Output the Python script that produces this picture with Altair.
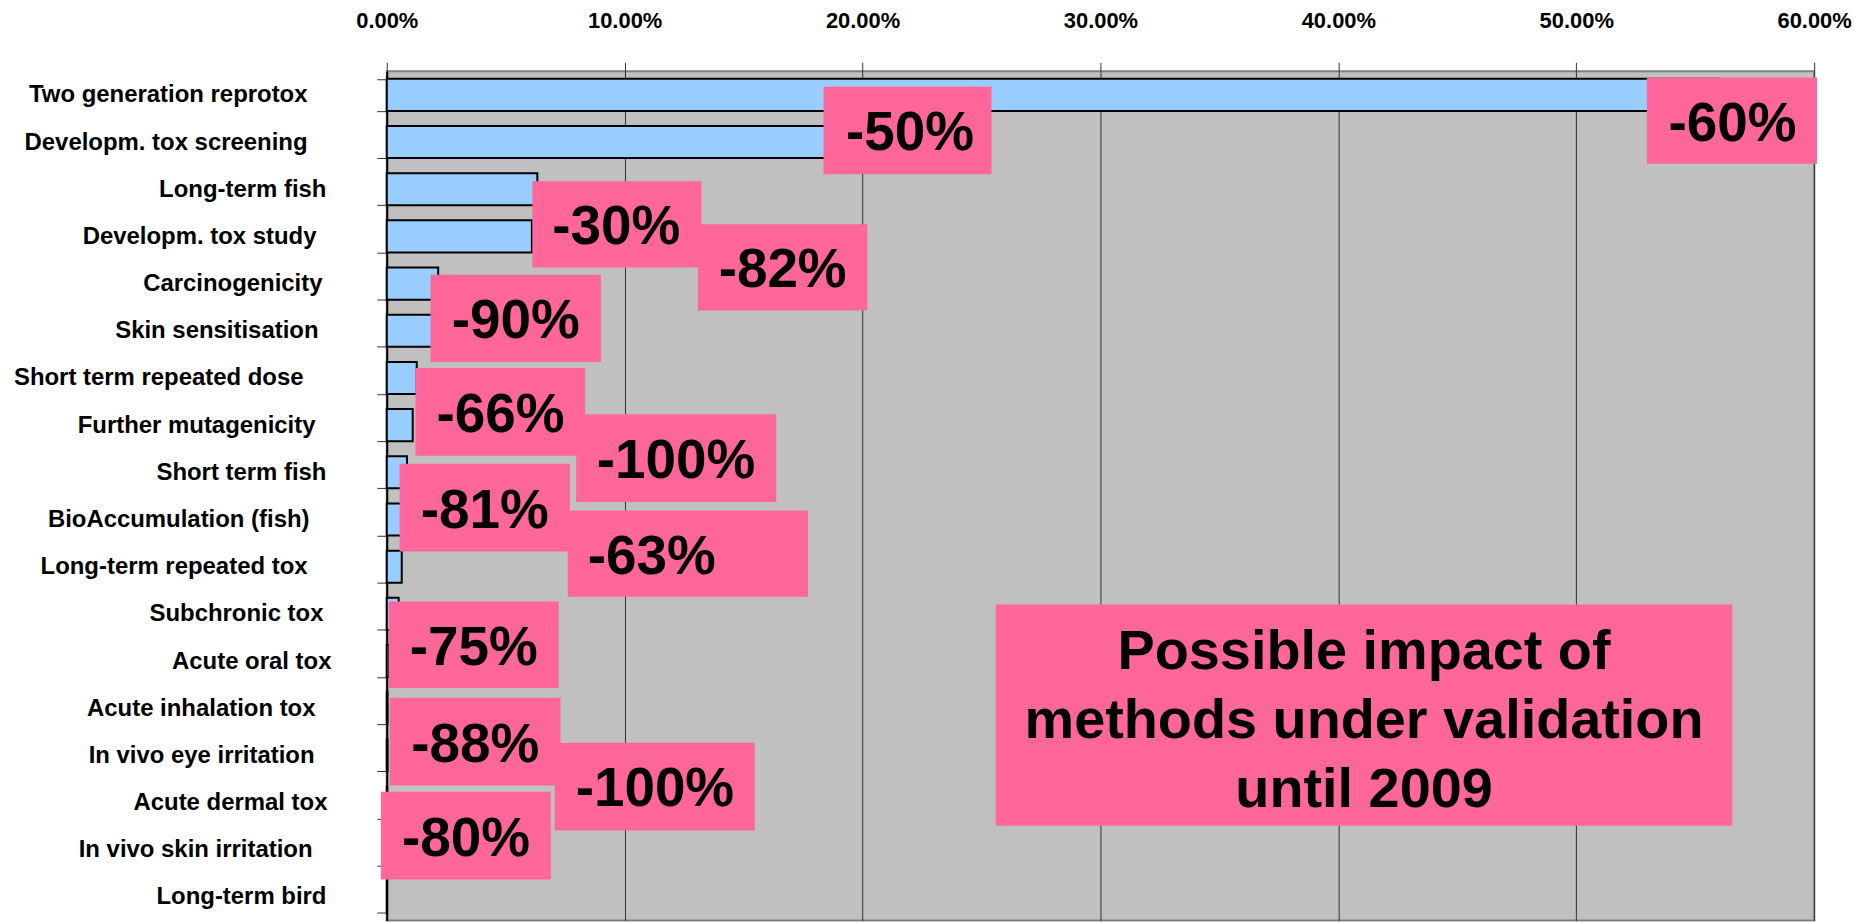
import altair as alt
import pandas as pd

# ---- data ----
categories = [
    "Two generation reprotox", "Developm. tox screening", "Long-term fish",
    "Developm. tox study", "Carcinogenicity", "Skin sensitisation",
    "Short term repeated dose", "Further mutagenicity", "Short term fish",
    "BioAccumulation (fish)", "Long-term repeated tox", "Subchronic tox",
    "Acute oral tox", "Acute inhalation tox", "In vivo eye irritation",
    "Acute dermal tox", "In vivo skin irritation", "Long-term bird",
]
shares = [
    0.560, 0.200, 0.0633, 0.0610, 0.0216, 0.0200,
    0.0126, 0.0109, 0.0085, 0.0060, 0.0063, 0.0050,
    0.0010, 0.0003, 0.0003, 0.0002, 0.0002, 0.0001,
]

tick_values = [0.0, 0.1, 0.2, 0.3, 0.4, 0.5, 0.6]

# reduction callouts (box extents in axis units: share fraction / row index)
ann_labels = ["-60%", "-50%", "-30%", "-82%", "-90%", "-66%", "-100%",
              "-81%", "-63%", "-75%", "-88%", "-100%", "-80%"]
ann_x0 = [0.5297, 0.1836, 0.0612, 0.1308, 0.0184, 0.0121, 0.0796,
          0.0054, 0.0761, 0.0008, 0.0013, 0.0706, -0.0025]
ann_x1 = [0.6012, 0.2542, 0.1323, 0.2020, 0.0900, 0.0834, 0.1637,
          0.0770, 0.1771, 0.0723, 0.0730, 0.1547, 0.0690]
ann_y0 = [0.13, 0.33, 2.33, 3.24, 4.31, 6.29, 7.27,
          8.32, 9.31, 11.24, 13.28, 14.23, 15.27]
ann_y1 = [1.96, 2.18, 4.16, 5.07, 6.16, 8.15, 9.13,
          10.18, 11.14, 13.07, 15.14, 16.09, 17.13]
ann_text_x = [0.5657, 0.2199, 0.0965, 0.1664, 0.0542, 0.0478, 0.1216,
              0.0412, 0.1114, 0.0366, 0.0372, 0.1127, 0.0333]

note_text = ["Possible impact of", "methods under validation", "until 2009"]
note_x0, note_x1 = [0.256], [0.5656]
note_y0, note_y1 = [11.3], [15.99]

# ---- styling: gap between each category label and its tick (px) ----
label_pad = {
    "Two generation reprotox": 70, "Developm. tox screening": 70,
    "Long-term fish": 51, "Developm. tox study": 61, "Carcinogenicity": 55,
    "Skin sensitisation": 59, "Short term repeated dose": 74,
    "Further mutagenicity": 62, "Short term fish": 51,
    "BioAccumulation (fish)": 68, "Long-term repeated tox": 70,
    "Subchronic tox": 54, "Acute oral tox": 46, "Acute inhalation tox": 62,
    "In vivo eye irritation": 63, "Acute dermal tox": 50,
    "In vivo skin irritation": 65, "Long-term bird": 51,
}

# ---- tables ----
bars_df = pd.DataFrame({"category": categories, "share": shares})
ann_df = pd.DataFrame({
    "label": ann_labels, "x0": ann_x0, "x1": ann_x1,
    "y0": ann_y0, "y1": ann_y1, "tx": ann_text_x,
})
ann_df["ty"] = (ann_df["y0"] + ann_df["y1"]) / 2
note_df = pd.DataFrame({
    "text": ["\n".join(note_text)], "x0": note_x0, "x1": note_x1,
    "y0": note_y0, "y1": note_y1,
})
note_df["tx"] = (note_df["x0"] + note_df["x1"]) / 2
note_df["ty"] = (note_df["y0"] + note_df["y1"]) / 2

FONT = "Liberation Sans"
PINK = "#FF6699"
N = len(categories)

xscale = alt.Scale(domain=[0, 0.6], nice=False, zero=True)
rowscale = alt.Scale(domain=[0, N], reverse=True, nice=False, zero=False)

pad_condition = {
    "condition": [{"test": f"datum.value === '{c}'", "value": p}
                  for c, p in label_pad.items()],
    "value": 55,
}


def x_axis():
    return alt.Axis(orient="top", format=".2%", values=tick_values,
                    title=None, grid=True, gridColor="#333333",
                    gridWidth=1, domain=False, tickColor="#333333",
                    tickSize=9, labelFont=FONT, labelFontSize=22,
                    labelFontWeight="bold", labelColor="#000000",
                    labelPadding=30, labelFlush=False)


bars = alt.Chart(bars_df).mark_bar(
    color="#99CCFF", stroke="#000000", strokeWidth=2
).encode(
    x=alt.X("share:Q", scale=xscale, axis=x_axis()),
    y=alt.Y("category:N", sort=categories,
            scale=alt.Scale(paddingInner=0.32, paddingOuter=0.16),
            axis=alt.Axis(title=None, tickBand="extent", tickSize=10,
                          tickColor="#333333", domainColor="#000000",
                          domainWidth=2, labelFont=FONT, labelFontSize=24,
                          labelFontWeight="bold", labelColor="#000000",
                          labelPadding=pad_condition, labelLimit=500,
                          grid=False)),
)

ann_boxes = alt.Chart(ann_df).mark_rect(color=PINK, opacity=1).encode(
    x=alt.X("x0:Q", scale=xscale, axis=x_axis()),
    x2="x1:Q",
    y=alt.Y("y0:Q", scale=rowscale, axis=None),
    y2="y1:Q",
)
ann_text = alt.Chart(ann_df).mark_text(
    font=FONT, fontSize=55, fontWeight="bold", color="#000000",
    align="center", baseline="middle", dy=3
).encode(
    x=alt.X("tx:Q", scale=xscale, axis=x_axis()),
    y=alt.Y("ty:Q", scale=rowscale, axis=None),
    text="label:N",
)

note_box = alt.Chart(note_df).mark_rect(color=PINK, opacity=1).encode(
    x=alt.X("x0:Q", scale=xscale, axis=x_axis()),
    x2="x1:Q",
    y=alt.Y("y0:Q", scale=rowscale, axis=None),
    y2="y1:Q",
)
note_label = alt.Chart(note_df).mark_text(
    font=FONT, fontSize=56, fontWeight="bold", color="#000000",
    align="center", baseline="middle", lineBreak="\n", lineHeight=69,
    dy=-63
).encode(
    x=alt.X("tx:Q", scale=xscale, axis=x_axis()),
    y=alt.Y("ty:Q", scale=rowscale, axis=None),
    text="text:N",
)

chart = alt.layer(
    bars, ann_boxes, ann_text, note_box, note_label
).resolve_scale(
    y="independent"
).properties(
    width=1432, height=852,
    padding={"left": 380, "top": 62, "right": 40, "bottom": 0},
    autosize=alt.AutoSizeParams(type="none"),
    background="#FFFFFF",
).configure_view(
    fill="#C0C0C0", stroke="#808080", strokeWidth=2
)

chart.save("out.html", embed_options={"renderer": "svg", "actions": False})
